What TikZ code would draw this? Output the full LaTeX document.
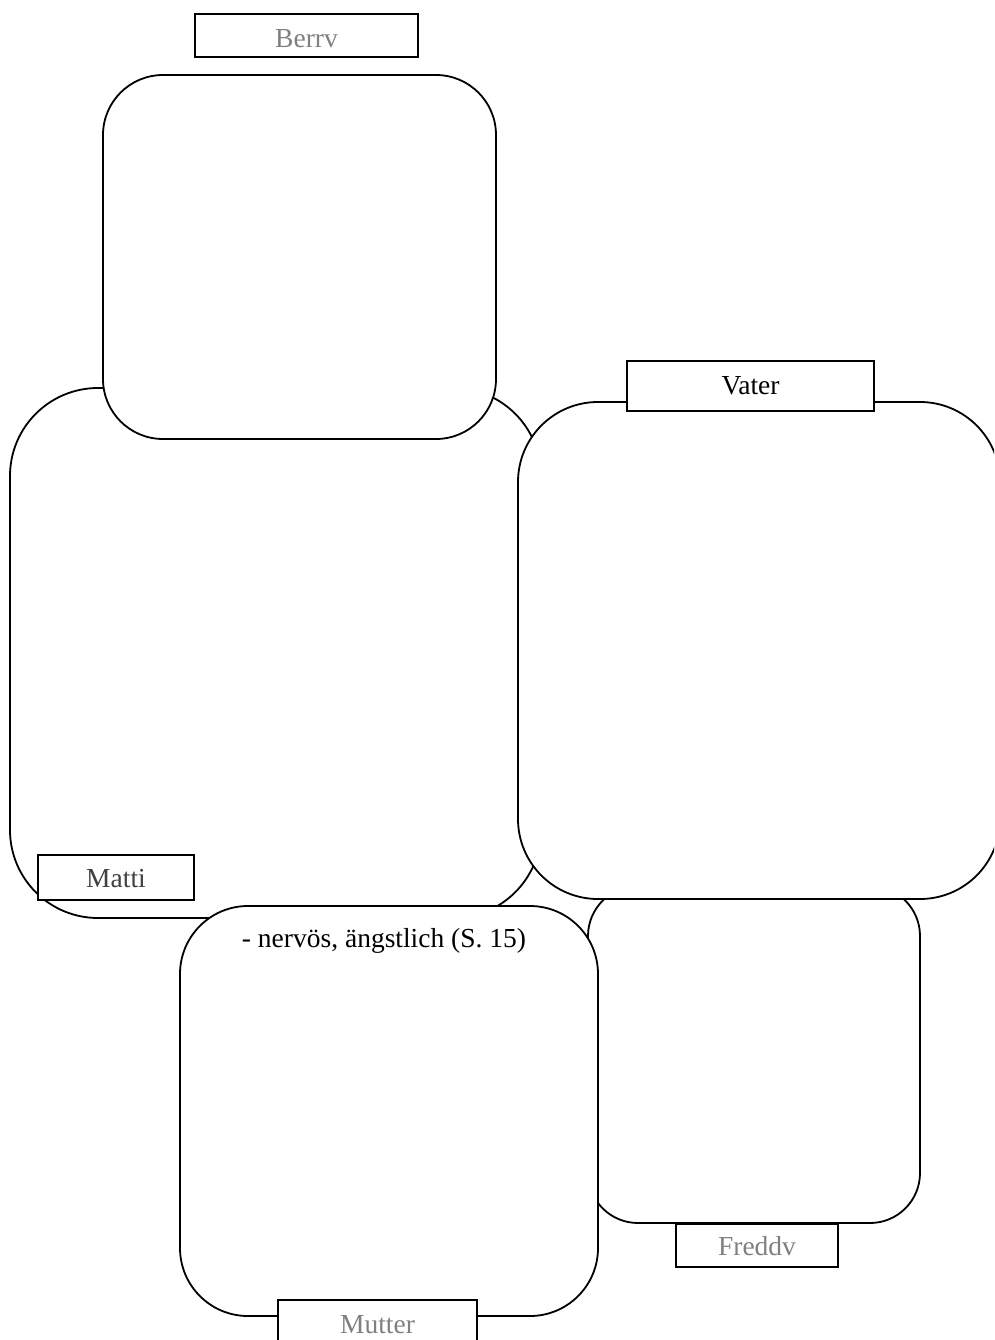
\documentclass[tikz,border=0pt]{standalone}
\usepackage{fontspec}
\setmainfont{Liberation Serif}
\definecolor{lightgreytext}{HTML}{808080}
\definecolor{darkgreytext}{HTML}{404040}
\begin{document}
\begin{tikzpicture}[x=1pt,y=-1pt,
  bigbox/.style={draw=black, line width=1.8pt, fill=white, inner sep=0pt, rectangle},
  tag/.style={draw=black, line width=1.8pt, fill=white, inner sep=0pt, rectangle,
    anchor=north, font=\fontsize{27.5}{32}\selectfont},
  txt/.style={font=\fontsize{27.5}{32}\selectfont, inner sep=0pt}
]
\useasboundingbox (0,0) rectangle (994,1340);
\fill[white] (0,0) rectangle (994,1340);
\begin{scope}
\clip (0,0) rectangle (994,1340);
% big rounded boxes, in drawing order
\node[bigbox, minimum width=531pt, minimum height=530pt, rounded corners=88pt] (mattibox) at (275.5,653) {};
\node[bigbox, minimum width=332pt, minimum height=337pt, rounded corners=50pt] (freddvbox) at (754,1054.5) {};
\node[bigbox, minimum width=482pt, minimum height=497pt, rounded corners=80pt] (vaterbox) at (759,650.5) {};
\node[bigbox, minimum width=418pt, minimum height=410pt, rounded corners=68pt] (mutterbox) at (389,1111) {};
\node[bigbox, minimum width=393pt, minimum height=364pt, rounded corners=60pt] (berrvbox) at (299.5,257) {};
% label tags
\node[tag, minimum width=223pt, text height=34pt, text depth=9pt, text=lightgreytext] (berrvtag) at (306.5,13) {Berrv};
\node[tag, minimum width=247pt, text height=34pt, text depth=16pt, text=black] (vatertag) at (750.5,360) {Vater};
\node[tag, minimum width=156pt, text height=33pt, text depth=12pt, text=darkgreytext] (mattitag) at (116,854) {Matti};
\node[tag, minimum width=162pt, text height=32pt, text depth=11pt, text=lightgreytext] (freddvtag) at (757,1223) {Freddv};
\node[tag, minimum width=199pt, text height=34pt, text depth=9pt, text=lightgreytext] (muttertag) at (377.5,1299) {Mutter};
% note text
\node[txt, anchor=base] (note) at (384,947) {- nervös, ängstlich (S. 15)};
\end{scope}
\end{tikzpicture}
\end{document}
